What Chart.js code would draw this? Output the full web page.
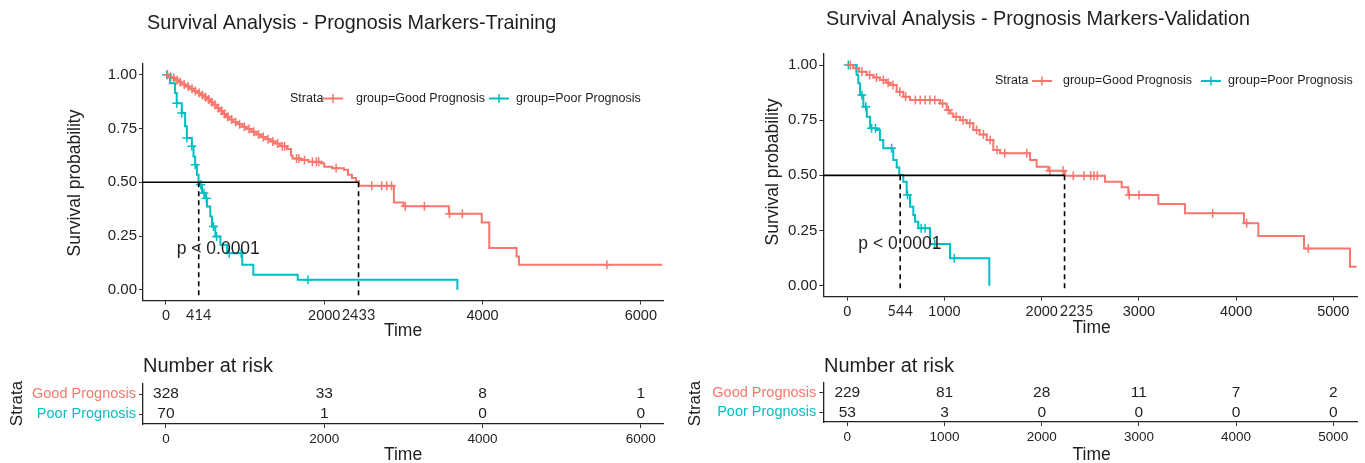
<!DOCTYPE html>
<html><head><meta charset="utf-8">
<script src="https://cdn.jsdelivr.net/npm/chart.js@4.4.1/dist/chart.umd.min.js"></script>
<style>
html,body{margin:0;padding:0;background:#fff;}
#wrap{position:relative;width:1365px;height:463px;overflow:hidden;background:#fff;}
canvas{position:absolute;display:block;}
</style></head><body>
<div id="wrap">
<canvas id="kmTrain" width="680" height="340" style="left:0;top:0"></canvas>
<canvas id="kmValid" width="685" height="340" style="left:680px;top:0"></canvas>
<canvas id="riskTrain" width="680" height="123" style="left:0;top:340px"></canvas>
<canvas id="riskValid" width="685" height="123" style="left:680px;top:340px"></canvas>
</div>
<script>
// ---------- DATA ----------
const strata = ['Good Prognosis', 'Poor Prognosis'];

// Training: Kaplan-Meier steps (time, survival)
const trainGoodT = [0, 40, 80, 120, 160, 200, 250, 300, 350, 400, 440, 480, 520, 560, 600, 640, 680, 720, 760, 800, 850, 900, 960, 1020, 1080, 1140, 1200, 1260, 1320, 1380, 1440, 1530, 1580, 1600, 1700, 1800, 1960, 2000, 2100, 2250, 2300, 2350, 2400, 2440, 2880, 3000, 3575, 3990, 4085, 4430, 4460, 6270];
const trainGoodS = [1.0, 0.99, 0.985, 0.975, 0.965, 0.955, 0.945, 0.935, 0.925, 0.915, 0.905, 0.895, 0.885, 0.872, 0.86, 0.845, 0.832, 0.818, 0.805, 0.792, 0.78, 0.77, 0.758, 0.748, 0.735, 0.722, 0.71, 0.70, 0.69, 0.68, 0.668, 0.655, 0.625, 0.61, 0.603, 0.595, 0.588, 0.572, 0.565, 0.558, 0.535, 0.52, 0.505, 0.484, 0.406, 0.388, 0.353, 0.313, 0.194, 0.155, 0.116, 0.116];
const trainGoodCensor = [20, 60, 100, 140, 180, 230, 280, 330, 370, 420, 460, 500, 540, 580, 620, 660, 700, 740, 780, 830, 880, 930, 990, 1050, 1110, 1170, 1230, 1290, 1350, 1410, 1470, 1500, 1650, 1680, 1750, 1850, 1900, 1930, 2150, 2600, 2726, 2790, 2850, 3023, 3265, 3583, 3745, 5571];
const trainPoorT = [0, 50, 115, 136, 200, 242, 264, 327, 348, 369, 391, 412, 455, 497, 518, 560, 582, 624, 688, 773, 964, 1104, 1665, 3682];
const trainPoorS = [1.0, 0.961, 0.915, 0.868, 0.822, 0.76, 0.706, 0.667, 0.62, 0.581, 0.535, 0.488, 0.45, 0.426, 0.387, 0.341, 0.294, 0.248, 0.209, 0.17, 0.116, 0.07, 0.047, 0];
const trainPoorCensor = [10, 136, 200, 264, 327, 369, 440, 480, 510, 600, 640, 800, 950, 1793];
const trainMedians = [414, 2433];
const trainTicks = [0, 2000, 4000, 6000];
const trainRiskGood = [328, 33, 8, 1];
const trainRiskPoor = [70, 1, 0, 0];

// Validation
const validGoodT = [0, 62, 120, 200, 270, 336, 400, 439, 508, 576, 645, 954, 1022, 1060, 1091, 1160, 1228, 1296, 1360, 1434, 1502, 1571, 1880, 1948, 2068, 2240, 2651, 2823, 2891, 3200, 3474, 4081, 4229, 4699, 5172, 5240];
const validGoodS = [1.0, 0.985, 0.97, 0.955, 0.943, 0.932, 0.92, 0.909, 0.879, 0.856, 0.841, 0.826, 0.796, 0.78, 0.766, 0.75, 0.736, 0.705, 0.685, 0.66, 0.615, 0.60, 0.57, 0.539, 0.521, 0.498, 0.471, 0.446, 0.411, 0.37, 0.328, 0.283, 0.225, 0.169, 0.086, 0.086];
const validGoodCensor = [30, 90, 150, 230, 300, 370, 420, 470, 540, 600, 700, 750, 800, 850, 900, 980, 1040, 1120, 1190, 1260, 1330, 1400, 1470, 1540, 1620, 1846, 2085, 2220, 2325, 2435, 2504, 2538, 2572, 2901, 3001, 3759, 4109, 4743];
const validPoorT = [0, 96, 113, 131, 165, 200, 234, 302, 336, 370, 473, 508, 535, 576, 611, 645, 679, 697, 730, 851, 1057, 1461];
const validPoorS = [1.0, 0.955, 0.917, 0.864, 0.811, 0.766, 0.713, 0.705, 0.66, 0.623, 0.57, 0.536, 0.502, 0.471, 0.411, 0.358, 0.32, 0.29, 0.26, 0.189, 0.124, 0];
const validPoorCensor = [10, 150, 190, 250, 290, 455, 620, 760, 800, 900, 1100];
const validMedians = [544, 2235];
const validTicks = [0, 1000, 2000, 3000, 4000, 5000];
const validRiskGood = [229, 81, 28, 11, 7, 2];
const validRiskPoor = [53, 3, 0, 0, 0, 0];

const survTicks = [0, 0.25, 0.5, 0.75, 1.0];

// ---------- STYLE ----------
const RED = '#F8766D', TEAL = '#00BFC4', INK = '#1e1e1e';
const FONT = "'Liberation Sans', Arial, Helvetica, sans-serif";
const ALT = "Lato, 'Open Sans', sans-serif";

function txt(ctx, s, x, y, size, color, align, rot, family) {
  ctx.save();
  ctx.font = size + 'px ' + (family || FONT);
  ctx.fillStyle = color; ctx.textAlign = align || 'left'; ctx.textBaseline = 'middle';
  ctx.translate(x, y); if (rot) ctx.rotate(rot);
  ctx.fillText(s, 0, 0); ctx.restore();
}
function stepAt(T, S, t) { let v = S[0]; for (let i = 0; i < T.length; i++) { if (T[i] <= t) v = S[i]; else break; } return v; }
function legendSym(ctx, cx, y, color) {
  ctx.save(); ctx.strokeStyle = color; ctx.lineWidth = 2;
  ctx.beginPath(); ctx.moveTo(cx - 10, y); ctx.lineTo(cx + 10, y); ctx.stroke();
  ctx.lineWidth = 1.5; ctx.beginPath(); ctx.moveTo(cx, y - 4.5); ctx.lineTo(cx, y + 4.5); ctx.stroke();
  ctx.restore();
}

const kmDecor = {
  id: 'kmDecor',
  afterDatasetsDraw(chart, args, o) {
    const ctx = chart.ctx, xs = chart.scales.x, ys = chart.scales.y, ca = chart.chartArea;
    const y05 = ys.getPixelForValue(0.5);
    const xm = o.medians.map(m => xs.getPixelForValue(m));
    ctx.save();
    ctx.strokeStyle = '#000'; ctx.lineWidth = 1.6;
    ctx.beginPath(); ctx.moveTo(ca.left, y05); ctx.lineTo(Math.max(...xm), y05); ctx.stroke();
    ctx.setLineDash([5, 4]);
    xm.forEach(x => { ctx.beginPath(); ctx.moveTo(x, y05); ctx.lineTo(x, ys.getPixelForValue(-0.03)); ctx.stroke(); });
    ctx.restore();
    // p-value
    txt(ctx, 'p < 0.0001', xs.getPixelForValue(o.pval[0]), ys.getPixelForValue(o.pval[1]), 17.5, INK, 'left');
  },
  afterDraw(chart, args, o) {
    const ctx = chart.ctx, xs = chart.scales.x, ca = chart.chartArea;
    txt(ctx, o.title, o.titlePos[0], o.titlePos[1], 19.8, INK, 'left');
    txt(ctx, 'Survival probability', o.yTitle[0], o.yTitle[1], 17.5, INK, 'center', -Math.PI / 2);
    txt(ctx, 'Time', o.xTitle[0], o.xTitle[1], 17.5, INK, 'center');
    o.medians.forEach((m, i) => txt(ctx, String(m), xs.getPixelForValue(m) + o.medDx[i], ca.bottom + 15, 14.5, '#2a2a2a', 'center', 0, ALT));
    const L = o.legend;
    txt(ctx, 'Strata', L.strata, L.y, 12.5, INK, 'left');
    legendSym(ctx, L.goodSym, L.y, RED);
    txt(ctx, 'group=' + strata[0], L.goodTxt, L.y, 12.5, INK, 'left');
    legendSym(ctx, L.poorSym, L.y, TEAL);
    txt(ctx, 'group=' + strata[1], L.poorTxt, L.y, 12.5, INK, 'left');
  }
};

const riskDecor = {
  id: 'riskDecor',
  afterDatasetsDraw(chart, args, o) {
    const ctx = chart.ctx;
    o.counts.forEach((row, i) => {
      const meta = chart.getDatasetMeta(i);
      meta.data.forEach((pt, j) => txt(ctx, String(row[j]), pt.x, pt.y, 15.5, INK, 'center'));
    });
  },
  afterDraw(chart, args, o) {
    const ctx = chart.ctx;
    txt(ctx, 'Number at risk', o.titleX, 26, 20, INK, 'left');
    txt(ctx, 'Strata', o.strataX, 63.5, 17, INK, 'center', -Math.PI / 2);
    txt(ctx, 'Time', o.timeX, 115, 17.5, INK, 'center');
  }
};

function axisCommon(extra) {
  return Object.assign({
    grid: { display: true, drawOnChartArea: false, drawTicks: true, tickLength: 4, color: '#333', lineWidth: 1 },
    border: { display: true, color: '#222', width: 1.3 }
  }, extra);
}

function kmChart(id, c) {
  const ds = (T, S, color) => ({ data: T.map((t, i) => ({ x: t, y: S[i] })), stepped: true, borderColor: color, borderWidth: 2, pointRadius: 0, fill: false });
  const cs = (C, T, S, color) => ({ data: C.map(t => ({ x: t, y: stepAt(T, S, t) })), showLine: false, pointStyle: 'cross', pointRadius: 4.5, pointBorderWidth: 1.5, borderColor: color, pointBorderColor: color, backgroundColor: color });
  return new Chart(document.getElementById(id), {
    type: 'line',
    data: { datasets: [
      ds(c.goodT, c.goodS, RED), ds(c.poorT, c.poorS, TEAL),
      cs(c.goodC, c.goodT, c.goodS, RED), cs(c.poorC, c.poorT, c.poorS, TEAL)
    ] },
    options: {
      responsive: false, animation: false, events: [],
      layout: { padding: { left: 0, top: c.top, right: c.W - c.right, bottom: 0 } },
      plugins: { legend: { display: false }, tooltip: { enabled: false }, title: { display: false }, kmDecor: c.decor },
      scales: {
        x: axisCommon({ type: 'linear', min: c.xmin, max: c.xmax,
          afterBuildTicks: s => { s.ticks = c.xticks.map(v => ({ value: v })); },
          afterFit: s => { s.height = c.H - c.bottom; },
          ticks: { font: { family: FONT, size: 14.5 }, color: '#222', padding: 3, maxRotation: 0, autoSkip: false, callback: v => String(v) } }),
        y: axisCommon({ type: 'linear', min: -0.05, max: 1.05,
          afterBuildTicks: s => { s.ticks = survTicks.map(v => ({ value: v })); },
          afterFit: s => { s.width = c.left; },
          ticks: { font: { family: FONT, size: 15 }, color: '#222', padding: 2, callback: v => Number(v).toFixed(2) } })
      }
    },
    plugins: [kmDecor]
  });
}

function riskChart(id, c) {
  const row = (vals, label) => ({ data: c.times.map(t => ({ x: t, y: label })), showLine: false, pointRadius: 0 });
  return new Chart(document.getElementById(id), {
    type: 'scatter',
    data: { datasets: [row(c.good, strata[0]), row(c.poor, strata[1])] },
    options: {
      responsive: false, animation: false, events: [],
      layout: { padding: { left: 0, top: c.top, right: c.W - c.right, bottom: 0 } },
      plugins: { legend: { display: false }, tooltip: { enabled: false }, riskDecor: c.decor },
      scales: {
        x: axisCommon({ type: 'linear', min: c.xmin, max: c.xmax,
          afterBuildTicks: s => { s.ticks = c.times.map(v => ({ value: v })); },
          afterFit: s => { s.height = c.H - c.bottom; },
          ticks: { font: { family: FONT, size: 13.5 }, color: '#222', padding: 3, maxRotation: 0, autoSkip: false, callback: v => String(v) } }),
        y: axisCommon({ type: 'category', labels: strata, offset: true,
          grid: { display: true, drawOnChartArea: false, drawTicks: true, tickLength: 4, color: '#333', lineWidth: 1, offset: false },
          afterFit: s => { s.width = c.left; },
          ticks: { font: { family: FONT, size: 14.5 }, padding: 3, autoSkip: false, color: ctx => ctx.index === 0 ? RED : TEAL } })
      }
    },
    plugins: [riskDecor]
  });
}

kmChart('kmTrain', {
  W: 680, H: 340, left: 143, right: 663, top: 64, bottom: 300.5, xmin: -290, xmax: 6280, xticks: trainTicks,
  goodT: trainGoodT, goodS: trainGoodS, goodC: trainGoodCensor, poorT: trainPoorT, poorS: trainPoorS, poorC: trainPoorCensor,
  decor: { title: 'Survival Analysis - Prognosis Markers-Training', titlePos: [147, 24], yTitle: [75.5, 183], xTitle: [403, 331.5],
    medians: trainMedians, medDx: [0, 0], pval: [135, 0.19], legend: { y: 98.5, strata: 290, goodSym: 333, goodTxt: 356, poorSym: 499, poorTxt: 516 } }
});
kmChart('kmValid', {
  W: 685, H: 340, left: 143.3, right: 677, top: 54, bottom: 296.7, xmin: -247, xmax: 5244, xticks: validTicks,
  goodT: validGoodT, goodS: validGoodS, goodC: validGoodCensor, poorT: validPoorT, poorS: validPoorS, poorC: validPoorCensor,
  decor: { title: 'Survival Analysis - Prognosis Markers-Validation', titlePos: [146, 20], yTitle: [93, 172], xTitle: [411.7, 328],
    medians: validMedians, medDx: [0, 12], pval: [113, 0.19], legend: { y: 81, strata: 315, goodSym: 362, goodTxt: 383, poorSym: 531, poorTxt: 548 } }
});
riskChart('riskTrain', {
  W: 680, H: 123, left: 143, right: 663, top: 44, bottom: 84, xmin: -290, xmax: 6280, times: trainTicks,
  good: trainRiskGood, poor: trainRiskPoor,
  decor: { counts: [trainRiskGood, trainRiskPoor], titleX: 143, strataX: 17.5, timeX: 403 }
});
riskChart('riskValid', {
  W: 685, H: 123, left: 143.3, right: 677, top: 43, bottom: 82, xmin: -247, xmax: 5244, times: validTicks,
  good: validRiskGood, poor: validRiskPoor,
  decor: { counts: [validRiskGood, validRiskPoor], titleX: 144, strataX: 15, timeX: 411.7 }
});
</script>
</body></html>
